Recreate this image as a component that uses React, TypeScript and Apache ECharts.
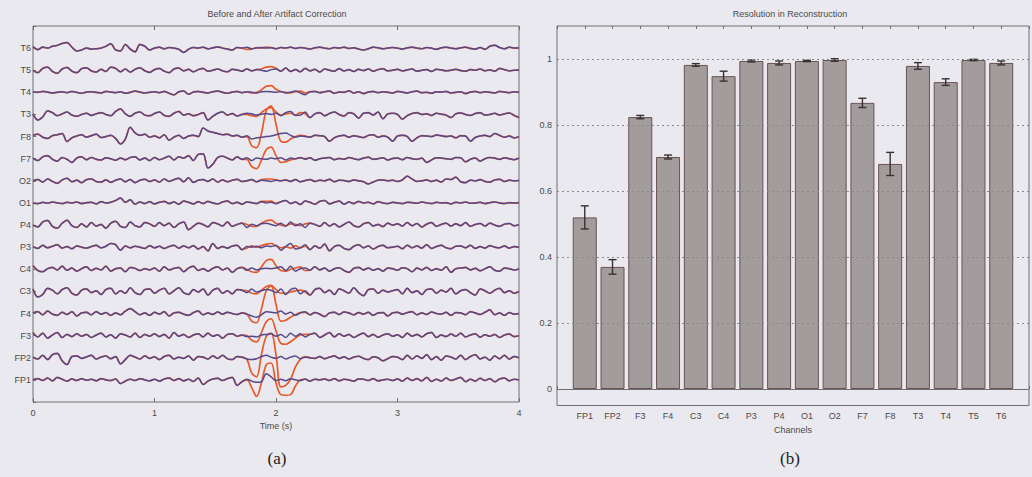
import { useEffect, useRef } from "react";
import * as echarts from "echarts";

// ---- panel (a): stacked EEG traces, sampled every 40 ms over 0-4 s (values in µV) ----
const channels = ["FP1", "FP2", "F3", "F4", "C3", "C4", "P3", "P4", "O1", "O2", "F7", "F8", "T3", "T4", "T5", "T6"];
const timeStep = 0.04;
const timeTicks = [0, 1, 2, 3, 4];
const CHANNEL_GAP = 72; // µV between neighbouring baselines
const ARTIFACT_START = 44; // first sample (1.76 s) of the artifact window

// after correction
const fp1After = [0,4,-2,6,-3,8,2,-4,3,-2,4,-1,2,-3,4,0,-2,3,-12,-4,2,-2,4,0,-3, 2,-4,3,6,-2,4,-3,2,-5,6,-15,-4,3,5,-2,4,8,-18,-6,2,-4,-8,-6,20,10, -2,2,-3,4,0,-2,3,-4,2,0,3,-2,4,-3,2,0,-4,3,2,-2,4,-3,0,2,-2, 3,-4,6,-2,4,-3,8,-5,2,-4,6,-2,3,8,-6,2,-4,5,-2,4,-6,3,6,-3,2,0];
const fp2After = [2,-4,8,-6,10,14,-10,-22,4,6,-2,3,8,-4,2,6,-3,4,-20,-6,8,2,-4,6,-2, 3,-6,4,8,-4,2,-2,6,-8,4,2,-4,6,-2,8,-3,-6,4,2,-4,-6,-3,4,8,2, -2,4,-4,2,6,-3,2,0,-2,4,-3,2,6,-2,3,-4,2,5,-2,-6,3,0,-10,-3,4, 2,-6,8,-4,6,-2,10,-6,4,-8,6,2,-4,8,-6,4,10,-4,2,-8,6,-3,8,-4,4,0];
const f3After = [10,-4,8,-8,2,10,-6,4,-3,6,-2,4,-6,2,8,-4,3,-8,6,2,-4,8,-6,4,-2, 6,-3,4,-8,10,-2,4,-6,2,6,-4,8,-2,3,-8,4,6,-2,2,-3,-2,-4,2,4,6, -2,4,-6,8,-2,6,-4,4,8,-6,2,10,-4,6,-2,4,-6,2,8,-3,4,-5,2,6,-2, 3,-6,8,-2,4,-4,6,10,-6,2,-3,5,-2,8,-4,2,6,-5,3,-2,4,-6,2,5,-3,0];
const f4After = [2,6,-4,8,-2,-6,4,-3,6,-8,2,4,-4,6,-2,3,-6,2,-4,8,16,6,-4,2,-6, 4,-2,6,-8,2,4,-2,-6,3,8,-4,2,-3,5,-2,4,0,-3,2,-2,-8,-12,-4,6,4, 2,8,-2,4,-6,2,6,-4,3,-2,-10,2,4,-3,5,2,-4,3,-2,4,-6,2,3,-8,2, 4,-2,3,6,-4,2,-3,5,0,-2,4,-6,3,2,-4,6,2,-3,4,12,-4,2,-6,3,-2,0];
const c3After = [8,-18,-10,10,4,-8,6,12,-6,-12,4,8,-4,2,-10,6,10,-8,2,-6,12,-4,-10,6,8, -6,4,10,-8,2,12,-4,-10,6,-2,8,-12,4,10,-6,2,-8,6,4,-4,8,-2,2,6,4, -4,8,-10,6,10,-8,2,-12,6,10,-4,4,-10,8,2,-6,12,-4,-14,6,8,-6,4,-2,2, 6,-8,10,-4,2,-10,6,8,-6,4,-2,10,-8,2,6,-4,-12,8,2,-6,4,10,-4,2,-6,0];
const c4After = [12,-4,-8,2,6,-2,10,-3,4,-6,2,8,-4,3,-2,10,-6,2,4,-8,6,3,-4,2,-2, 4,-6,8,-2,3,6,-8,4,10,-4,2,-6,3,8,-2,4,-10,2,6,-3,4,-2,2,3,2, 4,8,-4,10,-6,2,4,-3,8,-2,4,-6,2,5,-4,-10,3,6,-2,4,-3,2,-6,4,2, -3,5,2,-8,4,-2,6,-4,2,-3,8,-10,2,4,6,-2,3,-5,2,8,-3,-6,4,2,-2,1];
const p3After = [2,-4,6,-2,3,8,-3,2,-5,4,0,-3,2,6,-2,3,12,8,-10,4,-2,3,0,-4,5, -2,3,-4,2,6,-3,4,-2,5,-6,2,-12,12,-4,2,-3,4,6,-8,2,0,3,-2,4,2, 6,-10,2,12,-6,-2,8,-8,4,-3,10,-12,2,6,-4,-8,3,8,-2,4,-6,2,6,-2,0, 3,-5,6,-2,4,-3,8,-4,2,6,-2,-5,3,4,-2,6,-4,2,-3,5,0,-2,4,-3,2,0];
const p4After = [0,-6,10,15,-4,-10,6,16,-2,-8,4,-6,8,-3,2,-10,6,12,-4,-8,10,-2,-6,8,4, -4,8,-2,6,-8,4,10,-15,-4,6,2,-6,8,4,-3,10,-4,2,6,-8,3,-2,4,6,2, -2,6,-4,10,-2,4,-8,6,2,-4,8,-3,4,-6,2,10,-2,-6,4,8,-3,2,-5,6,0, 4,-3,8,-2,5,-6,3,8,-4,2,6,-3,4,-2,8,-4,2,5,-3,6,0,-4,3,5,-2,1];
const o1After = [0,-2,2,-1,3,0,-2,2,0,3,-2,1,2,-3,4,0,2,8,16,2,10,-4,3,-2,4, -3,2,5,-2,3,-4,6,2,-3,4,-2,5,0,-3,3,6,-2,2,-4,3,1,-2,4,0,2, -3,4,8,-2,3,-5,6,2,-4,5,8,-3,2,6,-4,3,-2,5,0,2,-3,4,0,-2,2, 0,-2,2,1,-1,3,0,-2,2,0,1,-3,2,0,3,-1,0,2,-2,1,3,0,-2,1,0,1];
const o2After = [0,4,-4,6,-2,-8,3,8,-3,2,-6,4,6,-2,-4,3,-5,2,6,-3,4,-6,2,5,-2, 3,-4,6,-2,4,8,-3,10,-5,2,4,-2,6,-4,3,-3,2,5,-2,0,4,-3,2,0,-2, 2,0,3,-2,4,-3,1,4,-2,2,0,5,-3,2,1,-2,3,0,-3,-10,-4,2,3,0,2, -2,3,15,6,-2,0,3,-2,2,-4,6,4,12,-3,-6,2,0,4,-2,-4,3,5,-2,2,0,1];
const f7After = [2,-6,6,10,-2,-8,4,-2,-12,2,6,-3,4,-2,-4,3,0,-5,2,-3,4,6,-4,2,-6, 4,-3,2,8,-4,6,2,10,-6,14,16,-30,-18,4,8,2,-4,6,-2,3,-6,2,0,-2,2, 0,3,-4,2,0,4,-2,3,-5,0,2,4,-3,1,-2,4,0,-3,2,5,-2,0,3,-4,1, 2,-3,4,0,-2,2,-12,-4,3,2,0,-2,4,3,-10,-2,2,-8,0,4,2,-2,3,0,-3,2];
const f8After = [4,8,-2,-6,3,6,10,-16,-4,2,6,-2,3,8,-3,0,4,-6,-24,-8,30,12,4,8,-2, 2,-4,6,-12,-2,4,-6,2,4,0,28,18,14,10,6,8,2,4,-2,3,-8,-4,-2,0,2, 6,10,12,4,-2,2,0,-2,4,3,0,-15,-4,2,4,-2,3,0,-3,4,6,-2,2,-2,-15, 2,4,0,-15,-4,3,2,0,5,3,0,2,-4,3,2,-15,-3,2,4,0,10,4,-2,2,-4,0];
const t3After = [2,-18,-8,12,6,-4,2,8,-2,-6,0,4,-3,2,6,0,-4,10,18,2,-6,4,8,-2,-4, 3,8,-3,-6,4,10,-2,2,-4,0,6,-18,-6,4,8,-2,3,-5,0,4,2,-2,1,3,0, 4,-4,6,10,-3,-2,8,-10,2,6,-4,3,8,0,-5,6,2,-12,4,6,-2,8,-14,2,4, 0,-15,-4,3,6,0,2,-3,4,1,-2,-10,2,5,0,-3,3,6,-2,0,4,-2,2,5,-3,-10];
const t4After = [2,0,3,1,-2,0,2,-1,3,0,-3,1,2,0,-2,3,1,-1,2,-3,0,4,1,-2,0, 2,-1,3,-3,-8,2,4,-6,1,3,0,-2,2,4,0,-3,1,3,-1,2,0,-2,2,3,2, 0,3,-2,1,4,-2,-8,2,3,-1,2,4,-3,1,0,5,-2,2,-4,1,3,-1,2,0,-2, 3,1,-2,2,4,-1,0,-3,2,1,3,-2,0,2,-4,1,3,-1,2,0,-2,3,1,-1,2,0];
const t5After = [0,-8,6,10,-4,-10,4,9,-3,-8,5,8,-2,-6,3,-4,10,6,-5,4,-6,3,8,-2,-7, 2,6,-3,-8,4,7,-2,3,-5,2,6,-3,0,4,-2,-5,3,1,-3,4,-2,2,0,-3,2, 4,-3,7,-4,2,-5,6,-2,3,-6,4,0,-3,5,-2,2,-4,3,-1,4,-3,2,5,-2,0, 3,-2,1,4,-3,0,2,-4,3,1,-2,0,3,-1,-3,2,0,4,-2,1,-3,6,2,-2,0,1];
const t6After = [5,-5,3,0,6,9,15,18,3,-9,-6,0,-3,-2,0,6,14,-6,-9,12,-3,-12,12,6,-6, 0,3,-2,2,0,-4,-14,-4,2,0,3,-2,1,4,0,-3,-6,2,0,3,-2,0,2,0,1, -2,2,0,3,-1,2,0,-3,1,3,0,-2,2,0,3,-1,1,-3,-6,-2,3,1,-2,0,2, 0,-3,1,3,0,-2,2,0,-4,1,3,0,-2,1,3,-1,-3,2,-4,6,9,2,-2,3,0,1];

// before correction, 1.76-2.24 s (outside this window the two recordings coincide)
const fp1Before = [0,-25,-54,-10,50,55,-10,-48,-50,-48,-20,0,2];
const fp2Before = [-5,-50,-62,10,70,80,10,-95,-90,-70,-30,-5,4];
const f3Before = [0,-15,-20,10,45,55,15,-25,-28,-20,-8,2,4];
const f4Before = [-2,-25,-30,15,75,90,30,-25,-22,-12,-4,3,4];
const c3Before = [2,-6,-8,4,16,20,6,-6,-6,-2,2,4,-2];
const c4Before = [0,-8,-10,8,28,32,12,-4,-6,0,4,8,-4];
const p3Before = [-3,4,0,5,10,12,4,-2,2,-3,4,-2,3];
const p4Before = [2,-4,-4,6,14,16,6,0,-2,4,2,-2,4];
const o1Before = [3,1,-2,5,5,6,-1,4,8,-2,3,-5,6];
const o2Before = [0,4,-3,4,6,6,3,0,3,-2,4,-3,1];
const f7Before = [-2,-26,-32,-5,30,38,10,-12,-10,-4,0,3,0];
const f8Before = [0,-30,-36,10,85,100,40,-15,-18,-8,0,4,2];
const t3Before = [0,-4,-6,6,18,22,8,-2,2,4,-2,6,2];
const t4Before = [2,-2,0,8,20,22,10,2,0,-2,2,4,-2];
const t5Before = [4,-2,2,4,10,12,6,-3,7,-4,2,-5,6];
const t6Before = [-4,-3,2,0,3,2,-2,2,0,3,-1,2,0];

const tracesAfter = [fp1After, fp2After, f3After, f4After, c3After, c4After, p3After, p4After, o1After, o2After, f7After, f8After, t3After, t4After, t5After, t6After];
const windowsBefore = [fp1Before, fp2Before, f3Before, f4Before, c3Before, c4Before, p3Before, p4Before, o1Before, o2Before, f7Before, f8Before, t3Before, t4Before, t5Before, t6Before];

// ---- panel (b): resolution per channel ----
const resolutionMean = [0.52, 0.37, 0.824, 0.703, 0.982, 0.948, 0.994, 0.988, 0.994, 0.997, 0.867, 0.682, 0.979, 0.93, 0.997, 0.988];
const resolutionError = [0.035, 0.022, 0.005, 0.006, 0.004, 0.015, 0.003, 0.006, 0.002, 0.004, 0.014, 0.035, 0.01, 0.01, 0.002, 0.006];
const resolutionTicks = [0, 0.2, 0.4, 0.6, 0.8, 1];

const FONT = "'Liberation Sans', Arial, Helvetica, sans-serif";
const TEXT = "#4a4a4a";
const BG = "#eae9ef";

function stack(values: number[], row: number): number[][] {
  return values.map((v, i) => [Number((i * timeStep).toFixed(2)), row + 1 + v / CHANNEL_GAP]);
}

export default function App() {
  const ref = useRef<HTMLDivElement>(null);

  useEffect(() => {
    if (!ref.current) return;
    const chart = echarts.init(ref.current, null, { renderer: "svg" });

    const traceSeries: any[] = [];
    tracesAfter.forEach((after, row) => {
      const before = [
        ...after.slice(0, ARTIFACT_START),
        ...windowsBefore[row],
        ...after.slice(ARTIFACT_START + windowsBefore[row].length),
      ];
      traceSeries.push({
        type: "line",
        name: channels[row] + " before",
        xAxisIndex: 0,
        yAxisIndex: 0,
        data: stack(before, row),
        symbol: "none",
        smooth: 0.35,
        lineStyle: { color: "#e65a2a", width: 1.7 },
        z: 2,
        silent: true,
      });
      traceSeries.push({
        type: "line",
        name: channels[row] + " after",
        xAxisIndex: 0,
        yAxisIndex: 0,
        data: stack(after, row),
        symbol: "none",
        smooth: 0.35,
        lineStyle: { color: "#55498c", width: 1.5 },
        z: 3,
        silent: true,
      });
    });

    const barData = resolutionMean.map((v, i) => [i + 1, v]);
    const errData = resolutionMean.map((v, i) => [i + 1, v - resolutionError[i], v + resolutionError[i]]);

    const axisText = { fontFamily: FONT, fontSize: 9, color: TEXT };

    chart.setOption({
      animation: false,
      backgroundColor: BG,
      grid: [
        { left: 33, top: 26, width: 486, height: 376, show: true, borderColor: "#6f6f6f", borderWidth: 1, backgroundColor: "transparent" },
        { left: 557, top: 26, width: 484, height: 379.5, show: true, borderColor: "#6f6f6f", borderWidth: 1, backgroundColor: "transparent" },
      ],
      xAxis: [
        {
          gridIndex: 0, type: "value", min: 0, max: 4, interval: 1,
          axisLine: { show: false }, splitLine: { show: false },
          axisTick: { inside: true, length: 4, lineStyle: { color: "#6f6f6f" } },
          axisLabel: { ...axisText, margin: 6, formatter: (v: number) => (timeTicks.includes(v) ? String(v) : "") },
          name: "Time (s)", nameLocation: "middle", nameGap: 19, nameTextStyle: axisText,
        },
        {
          gridIndex: 0, type: "value", position: "top", min: 0, max: 4, interval: 1,
          axisLine: { show: false }, splitLine: { show: false }, axisLabel: { show: false },
          axisTick: { inside: true, length: 4, lineStyle: { color: "#6f6f6f" } },
        },
        {
          gridIndex: 1, type: "value", min: 0, max: 17, interval: 1,
          axisLine: { show: false }, splitLine: { show: false },
          axisTick: { inside: true, length: 3, lineStyle: { color: "#6f6f6f" } },
          axisLabel: { ...axisText, margin: 6, formatter: (v: number) => channels[v - 1] ?? "" },
          name: "Channels", nameLocation: "middle", nameGap: 18, nameTextStyle: axisText,
        },
        {
          gridIndex: 1, type: "value", position: "top", min: 0, max: 17, interval: 1,
          axisLine: { show: false }, splitLine: { show: false }, axisLabel: { show: false },
          axisTick: { inside: true, length: 3, lineStyle: { color: "#6f6f6f" } },
        },
      ],
      yAxis: [
        {
          gridIndex: 0, type: "value", min: 0, max: 17, interval: 1,
          axisLine: { show: false }, splitLine: { show: false },
          axisTick: { inside: true, length: 3, lineStyle: { color: "#6f6f6f" } },
          axisLabel: { ...axisText, margin: 2, formatter: (v: number) => channels[v - 1] ?? "" },
        },
        {
          gridIndex: 1, type: "value", min: -0.05, max: 1.1, interval: 0.05,
          axisLine: { show: false }, splitLine: { show: false }, axisTick: { show: false },
          axisLabel: {
            ...axisText, margin: 5,
            formatter: (v: number) => {
              const r = Math.round(v * 100) / 100;
              return resolutionTicks.some((t) => Math.abs(t - r) < 1e-6) ? String(r) : "";
            },
          },
        },
      ],
      series: [
        ...traceSeries,
        {
          type: "line",
          name: "grid",
          xAxisIndex: 2,
          yAxisIndex: 1,
          data: [],
          z: 1,
          silent: true,
          markLine: {
            silent: true,
            symbol: "none",
            label: { show: false },
            data: [
              ...resolutionTicks.filter((t) => t > 0).map((t) => ({ yAxis: t, lineStyle: { type: [2, 3], color: "#8a8a8a", width: 1 } })),
              { yAxis: 0, lineStyle: { type: "solid", color: "#6f6f6f", width: 1 } },
            ],
          },
        },
        {
          type: "bar",
          name: "Resolution",
          xAxisIndex: 2,
          yAxisIndex: 1,
          data: barData,
          barWidth: 24,
          itemStyle: { color: "#a39c9d", borderColor: "#6a5252", borderWidth: 1 },
          z: 2,
          silent: true,
        },
        {
          type: "custom",
          name: "Error",
          xAxisIndex: 2,
          yAxisIndex: 1,
          data: errData,
          z: 3,
          silent: true,
          renderItem: (_params: any, api: any) => {
            const lo = api.coord([api.value(0), api.value(1)]);
            const hi = api.coord([api.value(0), api.value(2)]);
            const style = { stroke: "#3a3030", lineWidth: 1.4 };
            return {
              type: "group",
              children: [
                { type: "line", shape: { x1: lo[0], y1: lo[1], x2: hi[0], y2: hi[1] }, style },
                { type: "line", shape: { x1: lo[0] - 4, y1: lo[1], x2: lo[0] + 4, y2: lo[1] }, style },
                { type: "line", shape: { x1: hi[0] - 4, y1: hi[1], x2: hi[0] + 4, y2: hi[1] }, style },
              ],
            };
          },
        },
      ],
      graphic: [
        { type: "text", x: 277, y: 14, style: { text: "Before and After Artifact Correction", font: `9px ${FONT}`, fill: TEXT, textAlign: "center", textVerticalAlign: "middle" } },
        { type: "text", x: 790, y: 14, style: { text: "Resolution in Reconstruction", font: `9px ${FONT}`, fill: TEXT, textAlign: "center", textVerticalAlign: "middle" } },
        { type: "text", x: 277, y: 458, style: { text: "(a)", font: `17px 'Liberation Serif', 'Times New Roman', serif`, fill: "#222", textAlign: "center", textVerticalAlign: "middle" } },
        { type: "text", x: 790, y: 458, style: { text: "(b)", font: `17px 'Liberation Serif', 'Times New Roman', serif`, fill: "#222", textAlign: "center", textVerticalAlign: "middle" } },
      ],
    });

    return () => chart.dispose();
  }, []);

  return (
    <div
      ref={ref}
      style={{ position: "fixed", left: 0, top: 0, width: 1032, height: 477, background: BG }}
    />
  );
}
